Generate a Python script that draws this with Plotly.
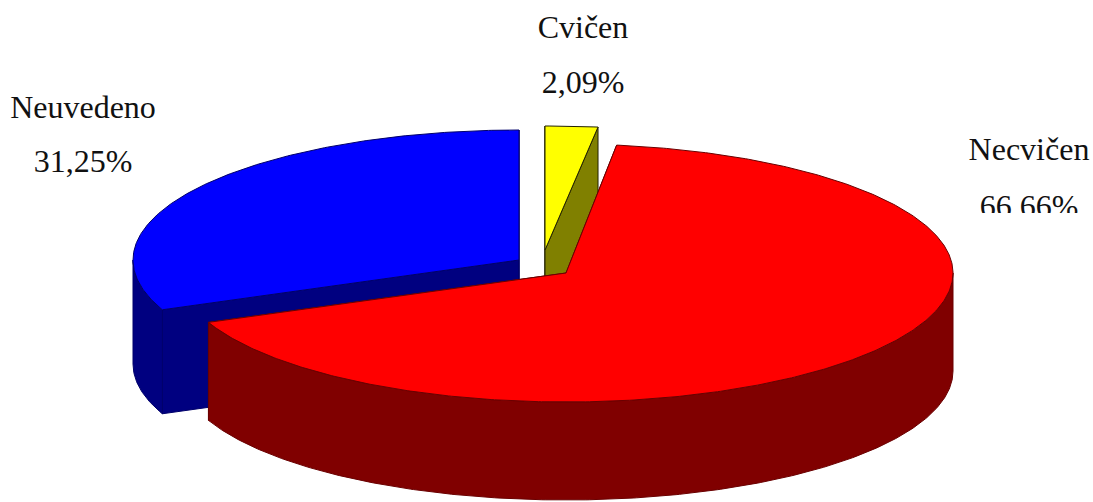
import numpy as np
import plotly.graph_objects as go

# Slices in drawing order (back to front)
categories = ['Neuvedeno', 'Cvičen', 'Necvičen']
values = [31.25, 2.09, 66.66]
value_labels = ['31,25%', '2,09%', '66.66%']

# Clockwise start of each slice, the pie begins at 12 o'clock with Cvičen
order = ['Cvičen', 'Necvičen', 'Neuvedeno']

top_colors = {'Neuvedeno': '#0000ff', 'Cvičen': '#ffff00', 'Necvičen': '#ff0000'}
side_colors = {'Neuvedeno': '#000080', 'Cvičen': '#808000', 'Necvičen': '#800000'}
edge_colors = {'Neuvedeno': '#00006a', 'Cvičen': '#222200', 'Necvičen': '#6a0000'}

# Exploded centre of each slice and its ellipse, in page pixels
centers = {'Neuvedeno': (519, 260), 'Cvičen': (545, 250), 'Necvičen': (566, 273)}
radii = {'Neuvedeno': (386, 130), 'Cvičen': (405, 124), 'Necvičen': (387, 129)}
depth = {'Neuvedeno': 104, 'Cvičen': 92, 'Necvičen': 98}

# Label anchors
label_pos = {'Neuvedeno': (83, 110, 164), 'Cvičen': (583, 30, 85), 'Necvičen': (1029, 152, 209)}

value_of = dict(zip(categories, values))
spans = {}
start = 0.0
for name in order:
    spans[name] = (start, start + value_of[name] * 3.6)
    start += value_of[name] * 3.6


def rim(name, a0, a1):
    cx, cy = centers[name]
    rx, ry = radii[name]
    t = np.radians(np.linspace(a0, a1, max(2, int(abs(a1 - a0)) * 2)))
    return cx + rx * np.sin(t), cy - ry * np.cos(t)


def poly(x, y, color, line_color):
    return go.Scatter(x=list(x) + [x[0]], y=list(y) + [y[0]], mode='lines', fill='toself',
                      fillcolor=color, line={'color': line_color, 'width': 1},
                      hoverinfo='skip', showlegend=False)


fig = go.Figure()

for name in categories:
    a0, a1 = spans[name]
    cx, cy = centers[name]
    d = depth[name]
    side = side_colors[name]
    edge = edge_colors[name]

    # Cut faces
    for a in (a0, a1):
        ex, ey = rim(name, a, a)
        ex, ey = ex[0], ey[0]
        fig.add_trace(poly([cx, ex, ex, cx], [cy, ey, ey + d, cy + d], side, edge))

    # Outer wall, only the front half of the ellipse can be seen
    w0, w1 = max(a0, 90), min(a1, 270)
    if w1 > w0:
        wx, wy = rim(name, w0, w1)
        fig.add_trace(poly(np.r_[wx, wx[::-1]], np.r_[wy, wy[::-1] + d], side, edge))

    # Top surface
    tx, ty = rim(name, a0, a1)
    fig.add_trace(poly(np.r_[cx, tx], np.r_[cy, ty], top_colors[name], edge))

# Labels
for name, text in zip(categories, value_labels):
    lx, ly1, ly2 = label_pos[name]
    fig.add_trace(go.Scatter(x=[lx, lx], y=[ly1, ly2], mode='text', text=[name, text],
                             textposition='middle center',
                             textfont={'family': 'Liberation Serif', 'size': 32, 'color': '#111111'},
                             hoverinfo='skip', showlegend=False))

# The 66.66% label is cut off in the source picture
fig.add_shape(type='rect', x0=960, x1=1093, y0=213, y1=245, layer='above',
              fillcolor='white', line={'width': 0})

fig.update_xaxes(range=[0, 1093], visible=False, fixedrange=True)
fig.update_yaxes(range=[502, 0], visible=False, fixedrange=True)
fig.update_layout(width=1093, height=502, margin={'l': 0, 'r': 0, 't': 0, 'b': 0},
                  paper_bgcolor='white', plot_bgcolor='white', showlegend=False)

# Drop the browser's default page margin so the plot sits at 0,0
fig.write_html('out.html', config={'displayModeBar': False},
               post_script="document.body.style.margin = '0'; document.body.style.overflow = 'hidden';")
